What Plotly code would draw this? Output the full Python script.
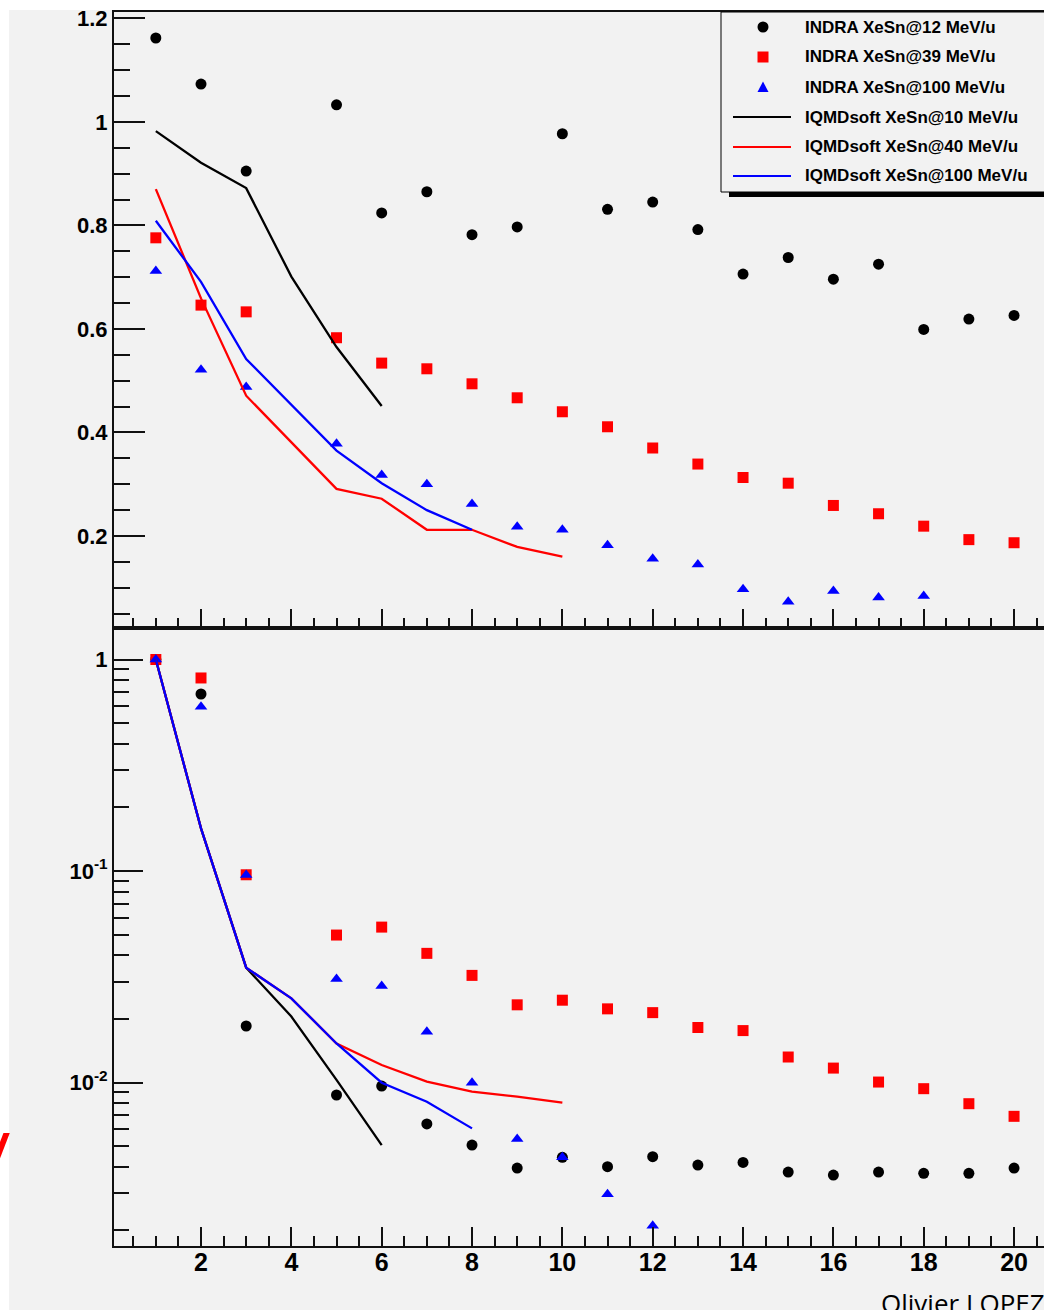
import plotly.graph_objects as go

# ---- figure size (pixels) ----
W, H = 1044, 1310

# ---- data: fragment multiplicity ratios vs Z ----
series_names = [
    "INDRA XeSn@12 MeV/u",
    "INDRA XeSn@39 MeV/u",
    "INDRA XeSn@100 MeV/u",
    "IQMDsoft XeSn@10 MeV/u",
    "IQMDsoft XeSn@40 MeV/u",
    "IQMDsoft XeSn@100 MeV/u",
]

z_indra = [1, 2, 3, 5, 6, 7, 8, 9, 10, 11, 12, 13, 14, 15, 16, 17, 18, 19, 20]
z_indra100 = [1, 2, 3, 5, 6, 7, 8, 9, 10, 11, 12, 13, 14, 15, 16, 17, 18]

# upper panel (linear scale)
top_indra12 = [1.162, 1.073, 0.905, 1.033, 0.824, 0.865, 0.782, 0.797, 0.977, 0.831,
               0.845, 0.792, 0.706, 0.738, 0.696, 0.725, 0.599, 0.619, 0.626]
top_indra39 = [0.776, 0.646, 0.633, 0.583, 0.534, 0.523, 0.494, 0.467, 0.440, 0.411,
               0.370, 0.339, 0.313, 0.302, 0.259, 0.243, 0.219, 0.193, 0.187]
top_indra100 = [0.712, 0.521, 0.488, 0.378, 0.318, 0.300, 0.262, 0.218, 0.212, 0.182,
                0.156, 0.145, 0.097, 0.073, 0.094, 0.081, 0.084]

z_iqmd10 = [1, 2, 3, 4, 5, 6]
z_iqmd40 = [1, 2, 3, 4, 5, 6, 7, 8, 9, 10]
z_iqmd100 = [1, 2, 3, 4, 5, 6, 7, 8]
top_iqmd10 = [0.982, 0.921, 0.872, 0.701, 0.565, 0.451]
top_iqmd40 = [0.870, 0.659, 0.471, 0.382, 0.291, 0.272, 0.212, 0.212, 0.179, 0.160]
top_iqmd100 = [0.809, 0.691, 0.542, 0.453, 0.365, 0.302, 0.250, 0.212]

# lower panel (log scale)
bot_indra12 = [1.0, 0.687, 0.0185, 0.00873, 0.00962, 0.00637, 0.00506, 0.00394, 0.00443,
               0.00400, 0.00446, 0.00407, 0.00419, 0.00377, 0.00365, 0.00377, 0.00372,
               0.00372, 0.00394]
bot_indra39 = [1.0, 0.818, 0.0960, 0.0498, 0.0543, 0.0408, 0.0321, 0.0233, 0.0245,
               0.0223, 0.0214, 0.0182, 0.0176, 0.0132, 0.0117, 0.01005, 0.00935,
               0.00794, 0.00692]
bot_indra100 = [1.0, 0.598, 0.0958, 0.0309, 0.0286, 0.0174, 0.00998, 0.00541, 0.00443,
                0.00296, 0.00210, None, None, None, None, None, None]

bot_iqmd10 = [1.0, 0.159, 0.0349, 0.0205, 0.0103, 0.00506]
bot_iqmd40 = [1.0, 0.159, 0.0349, 0.0250, 0.0153, 0.0121, 0.0101, 0.00906, 0.00857, 0.00803]
bot_iqmd100 = [1.0, 0.159, 0.0349, 0.0250, 0.0153, 0.00998, 0.00811, 0.00607]

# axis ticks
x_major = [2, 4, 6, 8, 10, 12, 14, 16, 18, 20]
x_labels = ["2", "4", "6", "8", "10", "12", "14", "16", "18", "20"]
x_minor = [k * 0.5 for k in range(1, 43) if (k * 0.5) % 2 != 0]
top_y_major = [0.2, 0.4, 0.6, 0.8, 1.0, 1.2]
top_y_labels = ["0.2", "0.4", "0.6", "0.8", "1", "1.2"]
top_y_minor = [round(k * 0.05, 2) for k in range(1, 25) if k % 4 != 0]
bot_y_major = [0.01, 0.1, 1]
bot_y_labels = ["10<sup>-2</sup>", "10<sup>-1</sup>", "1"]
bot_y_minor = [m * 10 ** e for e in (-3, -2, -1, 0) for m in range(2, 10)]

BLACK, RED, BLUE = "#000000", "#ff0000", "#0000ff"
BG = "#f2f2f2"
AXC = "#111111"


def px(x):
    return x / W


def py(y):
    return 1 - y / H


fig = go.Figure()

marker_specs = [
    (BLACK, "circle", 11),
    (RED, "square", 11),
    (BLUE, "triangle-up", 11),
]

# ---- upper panel ----
for (col, sym, sz), name, xs, ys in zip(marker_specs, series_names[:3],
                                       [z_indra, z_indra, z_indra100],
                                       [top_indra12, top_indra39, top_indra100]):
    fig.add_trace(go.Scatter(x=xs, y=ys, mode="markers", name=name,
                             marker=dict(color=col, symbol=sym, size=sz, line=dict(width=0)),
                             xaxis="x", yaxis="y", showlegend=False))
for col, name, xs, ys in zip([BLACK, RED, BLUE], series_names[3:],
                             [z_iqmd10, z_iqmd40, z_iqmd100],
                             [top_iqmd10, top_iqmd40, top_iqmd100]):
    fig.add_trace(go.Scatter(x=xs, y=ys, mode="lines", name=name,
                             line=dict(color=col, width=2.3),
                             xaxis="x", yaxis="y", showlegend=False))

# ---- lower panel ----
for (col, sym, sz), name, xs, ys in zip(marker_specs, series_names[:3],
                                       [z_indra, z_indra, z_indra100],
                                       [bot_indra12, bot_indra39, bot_indra100]):
    fig.add_trace(go.Scatter(x=xs, y=ys, mode="markers", name=name,
                             marker=dict(color=col, symbol=sym, size=sz, line=dict(width=0)),
                             xaxis="x2", yaxis="y2", showlegend=False))
for col, name, xs, ys in zip([BLACK, RED, BLUE], series_names[3:],
                             [z_iqmd10, z_iqmd40, z_iqmd100],
                             [bot_iqmd10, bot_iqmd40, bot_iqmd100]):
    fig.add_trace(go.Scatter(x=xs, y=ys, mode="lines", name=name,
                             line=dict(color=col, width=2.3),
                             xaxis="x2", yaxis="y2", showlegend=False))

# ---- axes ----
x_dom = [px(114), 1.0]
x_rng = [0.0737, 20.663]
tick_font_y = dict(family="Liberation Sans, Arial, sans-serif", size=22, color="black", weight="bold")
tick_font_x = dict(family="Liberation Sans Narrow, Liberation Sans, sans-serif", size=25,
                   color="black", weight="bold")

common_x = dict(domain=x_dom, range=x_rng, showgrid=False, zeroline=False, showline=True,
                linecolor=AXC, linewidth=2, mirror=True, ticks="inside",
                tickvals=x_major, ticktext=x_labels, ticklen=19, tickwidth=1.8,
                tickcolor=AXC, automargin=False,
                minor=dict(tickvals=x_minor, ticks="inside", ticklen=10, tickwidth=1.6,
                           tickcolor=AXC, showgrid=False))

fig.update_layout(
    xaxis=dict(common_x, anchor="y", showticklabels=False),
    xaxis2=dict(common_x, anchor="y2", showticklabels=True, tickfont=tick_font_x,
                ticklabelstandoff=-7),
    yaxis=dict(domain=[py(628), py(12)], range=[0.0223, 1.2122], anchor="x",
               showgrid=False, zeroline=False, showline=True, linecolor=AXC,
               linewidth=2, mirror=False, ticks="inside", tickvals=top_y_major,
               ticktext=top_y_labels, ticklen=31, tickwidth=1.8, tickcolor=AXC,
               tickfont=tick_font_y, automargin=False,
               minor=dict(tickvals=top_y_minor, ticks="inside", ticklen=16,
                          tickwidth=1.6, tickcolor=AXC, showgrid=False)),
    yaxis2=dict(type="log", domain=[py(1246), py(628)], range=[-2.773, 0.149], anchor="x2",
                showgrid=False, zeroline=False, showline=True, linecolor=AXC,
                linewidth=2, mirror=False, ticks="inside", tickvals=bot_y_major,
                ticktext=bot_y_labels, ticklen=29, tickwidth=1.8, tickcolor=AXC,
                tickfont=tick_font_y, automargin=False,
                minor=dict(tickvals=bot_y_minor, ticks="inside", ticklen=15,
                           tickwidth=1.6, tickcolor=AXC, showgrid=False)),
)

# ---- background, legend box ----
shapes = [
    dict(type="rect", xref="paper", yref="paper", x0=px(9), x1=1.0, y0=0, y1=py(10),
         fillcolor=BG, line=dict(width=0), layer="below"),
    # legend shadow and frame
    dict(type="rect", xref="paper", yref="paper", x0=px(729), x1=px(1060), y0=py(197), y1=py(20),
         fillcolor="black", line=dict(width=0), layer="above"),
    dict(type="rect", xref="paper", yref="paper", x0=px(721), x1=px(1060), y0=py(192), y1=py(12),
         fillcolor=BG, line=dict(color="black", width=1), layer="above"),
]

rows = [27, 57, 87, 117, 147, 176]
mx = 763
r = 5.5
shapes.append(dict(type="circle", xref="paper", yref="paper", x0=px(mx - r), x1=px(mx + r),
                   y0=py(rows[0] + r), y1=py(rows[0] - r), fillcolor=BLACK,
                   line=dict(width=0), layer="above"))
shapes.append(dict(type="rect", xref="paper", yref="paper", x0=px(mx - r), x1=px(mx + r),
                   y0=py(rows[1] + r), y1=py(rows[1] - r), fillcolor=RED,
                   line=dict(width=0), layer="above"))
tri = "M {:.5f},{:.5f} L {:.5f},{:.5f} L {:.5f},{:.5f} Z".format(
    px(mx - 5.5), py(rows[2] + 5), px(mx + 5.5), py(rows[2] + 5), px(mx), py(rows[2] - 5.5))
shapes.append(dict(type="path", xref="paper", yref="paper", path=tri, fillcolor=BLUE,
                   line=dict(width=0), layer="above"))
for col, yy in zip([BLACK, RED, BLUE], rows[3:]):
    shapes.append(dict(type="line", xref="paper", yref="paper", x0=px(733), x1=px(791),
                       y0=py(yy), y1=py(yy), line=dict(color=col, width=2), layer="above"))

annotations = []
for name, yy in zip(series_names, rows):
    annotations.append(dict(text=name, xref="paper", yref="paper", x=px(803), y=py(yy),
                            xanchor="left", yanchor="middle", showarrow=False,
                            font=dict(family="Liberation Sans, Arial, sans-serif", size=17,
                                      color="black", weight="bold")))

annotations.append(dict(text="Olivier LOPEZ", xref="paper", yref="paper", x=px(879), y=py(1283),
                        xanchor="left", yanchor="top", showarrow=False,
                        font=dict(family="Open Sans, sans-serif", size=26, color="black")))
annotations.append(dict(text="/", xref="paper", yref="paper", x=px(-1), y=py(1153),
                        xanchor="center", yanchor="middle", showarrow=False,
                        font=dict(family="Liberation Sans, Arial, sans-serif", size=54,
                                  color=RED, weight="bold", style="italic")))

fig.update_layout(
    width=W, height=H,
    margin=dict(l=0, r=0, t=0, b=0, pad=0),
    paper_bgcolor="white",
    plot_bgcolor=BG,
    showlegend=False,
    shapes=shapes,
    annotations=annotations,
)

fig.write_html("out.html")
